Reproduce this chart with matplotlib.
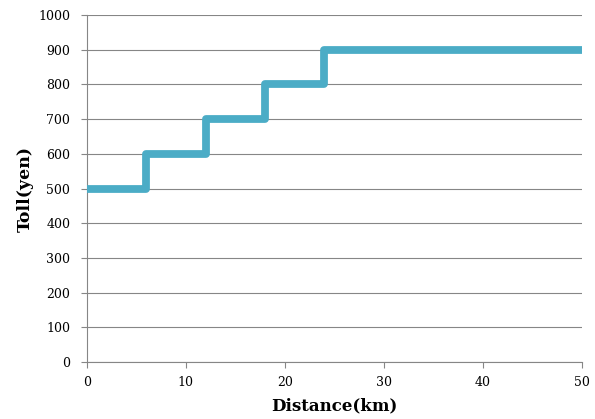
import matplotlib
matplotlib.use("Agg")
import matplotlib.pyplot as plt

# ============================================================
# DATA
# ============================================================

distance = [0, 6, 12, 18, 24, 50]
toll = [500, 600, 700, 800, 900, 900]

x_ticks = [0, 10, 20, 30, 40, 50]
y_ticks = list(range(0, 1001, 100))

# ============================================================
# PLOT
# ============================================================

plt.rcParams["font.family"] = ["DejaVu Serif"]

fig = plt.figure(figsize=(5.95, 4.19), dpi=100)
ax = fig.add_axes([0.146, 0.136, 0.832, 0.828])

ax.step(
    distance,
    toll,
    where="post",
    color="#4BACC6",
    linewidth=5.6,
    solid_joinstyle="round",
    solid_capstyle="butt",
    zorder=3
)

ax.set_xlim(0, 50)
ax.set_ylim(0, 1000)
ax.set_xticks(x_ticks)
ax.set_yticks(y_ticks)

ax.yaxis.grid(True, color="#868686", linewidth=0.8)
ax.set_axisbelow(True)

for side in ["top", "right"]:
    ax.spines[side].set_visible(False)
for side in ["left", "bottom"]:
    ax.spines[side].set_color("#868686")
    ax.spines[side].set_linewidth(0.8)

ax.tick_params(axis="both", colors="#868686", length=4, width=0.8,
               labelsize=9, labelcolor="black")
ax.tick_params(axis="y", pad=8)
ax.tick_params(axis="x", pad=6)

ax.set_xlabel("Distance(km)", fontsize=12, fontweight="bold", labelpad=6)
ax.set_ylabel("Toll(yen)", fontsize=12.5, fontweight="bold", labelpad=3)

fig.savefig("out.png", dpi=100)
